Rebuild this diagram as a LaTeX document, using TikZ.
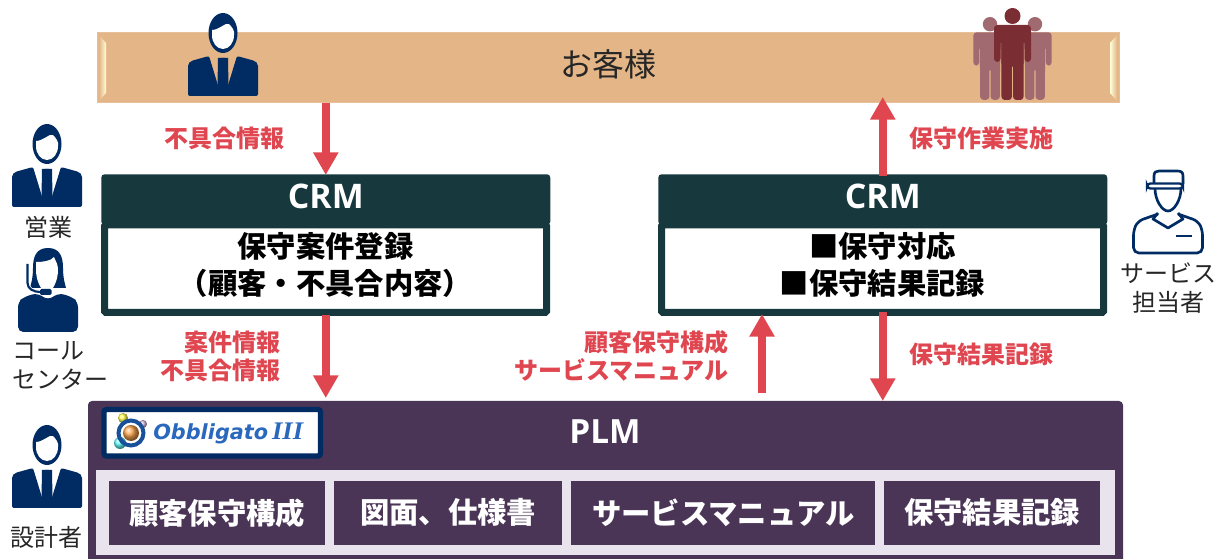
\documentclass[tikz,border=0pt]{standalone}
\usepackage{fontspec}
\setmainfont{Open Sans}
\newfontfamily\jp{Noto Sans CJK JP}
\newfontfamily\logofont{DejaVu Sans}
\newfontfamily\logoserif{Liberation Serif}
\usetikzlibrary{arrows.meta,calc,positioning}
\definecolor{barc}{HTML}{E3B587}
\definecolor{crmc}{HTML}{17383C}
\definecolor{plmc}{HTML}{4A3556}
\definecolor{plmlight}{HTML}{E9E3EE}
\definecolor{navy}{HTML}{002B63}
\definecolor{redc}{HTML}{DF4650}
\definecolor{wine}{HTML}{7A2E34}
\definecolor{winel}{HTML}{A06A70}
\definecolor{logoblue}{HTML}{2A68BE}
\tikzset{
  x=0.75pt,y=-0.75pt,
  flow/.style={draw=redc,line width=6pt,-{Triangle[length=17pt,width=18pt]}},
  redlab/.style={text=redc,font=\jp\fontsize{18}{21}\selectfont\bfseries,align=right,inner sep=0pt},
  blk/.style={text=black!85,font=\jp\fontsize{18}{21.75}\selectfont,align=center,inner sep=0pt},
  cellbox/.style={fill=plmc,text=white,font=\jp\fontsize{22}{26}\selectfont\bfseries,inner sep=0pt,minimum height=48pt,anchor=west},
  head/.style={fill=crmc,rounded corners=2.5pt,text=white,inner sep=0pt,font=\fontsize{25.4}{28}\selectfont\bfseries,minimum width=336.75pt,minimum height=38pt,anchor=north west},
  bodybox/.style={fill=white,draw=crmc,line width=5.25pt,rounded corners=1pt,inner sep=0pt,outer sep=0pt,minimum width=331.5pt,minimum height=65.6pt,anchor=north west},
  bodytext/.style={inner sep=0pt,font=\jp\fontsize{22}{27.75}\selectfont\bfseries,align=center,text=black},
  mate/.style={rounded corners=2.5pt},
}
\newcommand{\personicon}[2]{% head-centre x, y
  \begin{scope}[shift={(#1,#2)}]
    \fill[navy] (0,0) ellipse [x radius=14.5,y radius=20];
    \fill[white] (-11,-3) .. controls (-4,-3) and (3,-11) .. (6,-9) .. controls (9,-6) and (12,-2) .. (11,2)
       .. controls (11,10) and (6,16) .. (0,16) .. controls (-6,16) and (-11,10) .. (-11,2) -- cycle;
    \fill[navy,rounded corners=1.5pt] (-35,63) -- (-35,31) -- (-32,28) -- (-14,23) -- (-4.5,54) -- (-4,25) -- (4,25) -- (4.5,54) -- (14,23) -- (32,28) -- (35,31) -- (35,63) -- cycle;
    \fill[navy] (-5,25) -- (5,25) -- (5.5,53) -- (0,55) -- (-5.5,53) -- cycle;
  \end{scope}}
\newcommand{\standing}[4]{% x, top y, colour, scale
  \begin{scope}[shift={(#1,#2)},scale=#4]
    \fill[#3] (0,8) circle [radius=8];
    \fill[#3,mate] (-18.5,17) -- (18.5,17) -- (18.5,54) -- (12,54) -- (12,32) -- (11.2,32) -- (11,92) -- (0.6,92) -- (0.6,56) -- (-0.6,56) -- (-0.6,92) -- (-11,92) -- (-11.2,32) -- (-12,32) -- (-12,54) -- (-18.5,54) -- cycle;
  \end{scope}}
\begin{document}
\begin{tikzpicture}
\useasboundingbox (0,0) rectangle (1229,559);
% customer bar
\node[fill=barc,inner sep=0pt,outer sep=0pt,minimum width=766.5pt,minimum height=52.5pt,anchor=north west] (bar) at (97,33) {};
\draw[barc!85!white,line width=0.75pt] (97,33) rectangle (1119,103);
\shade[left color=barc,right color=yellow!15!white] (99,35) -- (106,43) -- (106,93) -- (99,101) -- cycle;
\shade[left color=yellow!15!white,right color=barc] (1117,35) -- (1110,43) -- (1110,93) -- (1117,101) -- cycle;
\node[text=black!85,font=\jp\fontsize{24}{28}\selectfont,inner sep=0pt] (okyaku) at (608,64) {お客様};
\personicon{223}{33}
\standing{990}{17}{winel}{0.9}
\standing{1035}{17}{winel}{0.9}
\standing{1012.5}{8}{wine}{1}
% CRM left
\node[head] (crmL) at (101,174) {\raisebox{5pt}{CRM}};
\node[bodybox] (crmLb) at (104.5,225) {};
\node[bodytext] (crmLt) at (325.5,264.5) {保守案件登録\\（顧客・不具合内容）};
% CRM right
\node[head] (crmR) at (658,174) {\raisebox{5pt}{CRM}};
\node[bodybox] (crmRb) at (661.5,225) {};
\node[bodytext] (crmRt) at (882.5,264.5) {■保守対応\\■保守結果記録};
% PLM
\fill[plmc,rounded corners=3pt] (88,401) rectangle (1123,575);
\node[inner sep=0pt,outer sep=0pt,minimum width=776.25pt,minimum height=12pt,anchor=north west] (plm) at (88,401) {};
\node[text=white,font=\fontsize{25}{28}\selectfont\bfseries,inner sep=0pt] (plmt) at (605,432) {PLM};
\fill[plmlight] (96,470) rectangle (1115,555);
\node[cellbox,minimum width=162pt] (c1) at (109,513) {\raisebox{2.5pt}{顧客保守構成}};
\node[cellbox,minimum width=171pt] (c2) at (334,513) {\raisebox{2.5pt}{図面、仕様書}};
\node[cellbox,minimum width=228pt] (c3) at (571,513) {\raisebox{2.5pt}{サービスマニュアル}};
\node[cellbox,minimum width=162pt] (c4) at (884,513) {\raisebox{2.5pt}{保守結果記録}};
% logo
\node[fill=white,draw=navy,line width=4pt,rounded corners=2pt,outer sep=0pt,minimum width=162.4pt,minimum height=34.9pt,inner sep=0pt,anchor=north west] (logo) at (104,409.5) {};
\shade[ball color=yellow!70!white] (123,418) circle [radius=5];
\shade[ball color=cyan!60!white] (120,443) circle [radius=6];
\shade[ball color=violet!30!white] (143,424) circle [radius=4];
\draw[logoblue!60!navy,line width=3pt] (131,433) circle [radius=12.5];
\shade[ball color=orange!70!white] (131,433) circle [radius=8];
\node[text=logoblue,inner sep=0pt,anchor=west] (logot) at (153,433) {\logofont\fontsize{15.6}{18}\selectfont\bfseries\itshape Obbligato\hspace{3pt}\logoserif\fontsize{19}{18}\selectfont\bfseries\itshape\scalebox{1.05}[1]{III}};
% connectors
\coordinate (a1) at (bar.south -| crmL.north);
\coordinate (a2) at ($(bar.south -| crmR.north)+(0,-6)$);
\coordinate (p1) at ($(crmL.north |- plm.north)+(0,-3)$);
\coordinate (p2) at (762,393);
\coordinate (p3) at (762,314);
\coordinate (p4) at (crmR.north |- plm.north);
\coordinate (b1) at ($(crmL.north |- crmLb.south)+(0,3)$);
\coordinate (b2) at (crmR.north |- crmRb.south);
\draw[flow] (a1) -- ($(crmL.north)+(0,1)$);
\draw[flow] ($(crmR.north)+(0,2)$) -- (a2);
\draw[flow] (b1) -- (p1);
\draw[flow] (p2) -- (p3);
\draw[flow] (b2) -- (p4);
% red labels
\node[redlab,anchor=center] (l1) at (224,138) {不具合情報};
\node[redlab,anchor=center] (l2) at (981.5,138) {保守作業実施};
\node[redlab,anchor=east] (l3) at (281,356) {案件情報\\不具合情報};
\node[redlab,anchor=east] (l4) at (729,356) {顧客保守構成\\サービスマニュアル};
\node[redlab,anchor=center] (l5) at (981.5,354) {保守結果記録};
% people
\personicon{47}{144}
\node[blk] (psales) at (48,227) {営業};
\personicon{47}{445}
\node[blk] (pdes) at (47,537) {設計者};
\node[blk,align=left,anchor=west] (pcall) at (12,365.5) {コール\\センター};
\node[blk] (pserv) at (1168,288) {サービス\\担当者};
% call centre person
\begin{scope}[shift={(48,248)}]
  \fill[navy] (0,0) .. controls (-12,0) and (-15,9) .. (-15,20) .. controls (-15,30) and (-17,36) .. (-18,40) -- (18,40) .. controls (17,36) and (15,30) .. (15,20) .. controls (15,9) and (12,0) .. (0,0) -- cycle;
  \fill[navy,rounded corners=4pt] (-30,84) -- (-30,54) -- (-24,49) -- (-11,45) -- (0,52) -- (11,45) -- (24,49) -- (30,54) -- (30,84) -- cycle;
  \fill[white] (-12,14) .. controls (-5,14) and (3,13) .. (6,9) .. controls (8,14) and (10,16) .. (10,22) .. controls (10,32) and (5,44) .. (-1,44) .. controls (-7,44) and (-12,32) .. (-12,22) -- cycle;
  \draw[white,line width=2.6pt] (-20.5,16) -- (-20.5,35) .. controls (-20.5,41) and (-14,44) .. (-8,44);
  \draw[navy,line width=1.6pt] (-20.5,16) -- (-20.5,35) .. controls (-20.5,41) and (-14,44) .. (-8,44);
  \fill[navy,rounded corners=1pt] (-8,41) rectangle (3.5,47);
\end{scope}
% service person
\begin{scope}[shift={(1168,170)}]
  \draw[navy,line width=2pt] (-14,14) -- (-14,6) .. controls (-14,2) and (-12,1) .. (-9,1) -- (9,1) .. controls (13,1) and (15,2) .. (15,6) -- (15,14);
  \draw[navy,line width=1.8pt,rounded corners=2.5pt,fill=white] (-21,13.5) rectangle (15,18.5);
  \draw[navy,line width=2pt] (-13,18.5) .. controls (-13,30) and (-6,41) .. (0,41) .. controls (6,41) and (13,30) .. (13,18.5);
  \draw[navy,line width=2pt,rounded corners=4pt] (-10,44) -- (-30,51) -- (-34.5,60) -- (-34.5,83) -- (34.5,83) -- (34.5,60) -- (30,51) -- (10,44);
  \draw[navy,line width=2pt,line join=round] (-10,43) -- (-15,49) -- (0,58) -- (15,49) -- (10,43);
  \draw[navy,line width=2pt] (8,66) -- (24,66);
\end{scope}
\end{tikzpicture}
\end{document}
